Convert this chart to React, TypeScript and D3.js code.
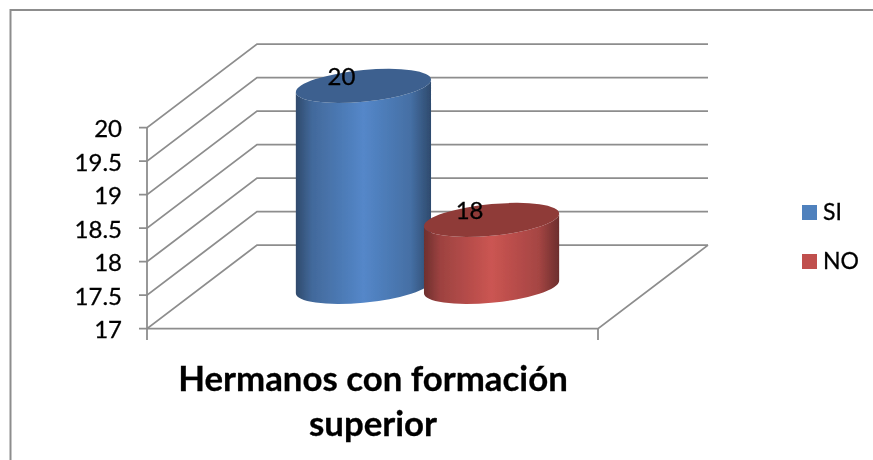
import React from "react";
import * as d3 from "d3";

const categories = ["SI", "NO"];
const values = [20, 18];
const dataLabels = ["20", "18"];
const yTicks = [17, 17.5, 18, 18.5, 19, 19.5, 20];
const titleLines = ["Hermanos con formación", "superior"];
const gradStops = [
  ["#2f4a6c", "#5487c9", "#2e4a6d"],
  ["#6e2f2e", "#cb5552", "#6c2e2d"],
];
const topFills = ["#3d618f", "#8f3b39"];
const legendFills = ["#4f81bd", "#c0504d"];

const W = 873, H = 460;
const y = d3.scaleLinear().domain([17, 20]).range([328.7, 127.7]);
const frontX = d3.scaleLinear().domain([0, 1]).range([147, 598]);
const depth = { x: 110, y: -83.6 };
const xPos = d3.scalePoint<string>().domain(categories).range([147, 598]).padding(1.26);
const grid = "#8d8d8d";

// tilted ellipse of the cylinder
const A = 67.9, B = 15.8, THETA = (-5.6 * Math.PI) / 180;
const halfW = Math.hypot(A * Math.cos(THETA), B * Math.sin(THETA));
const tanY = ((A * A - B * B) * Math.sin(THETA) * Math.cos(THETA)) / halfW;
const arc = `A${A} ${B} ${(THETA * 180) / Math.PI}`;

function topPath(cx: number, cy: number) {
  return `M${cx - halfW} ${cy - tanY}${arc} 0 1 ${cx + halfW} ${cy + tanY}${arc} 0 1 ${cx - halfW} ${cy - tanY}Z`;
}
function bodyPath(cx: number, cy: number, by: number) {
  return `M${cx - halfW} ${cy - tanY}L${cx - halfW} ${by - tanY}${arc} 0 0 ${cx + halfW} ${by + tanY}L${cx + halfW} ${cy + tanY}${arc} 0 1 ${cx - halfW} ${cy - tanY}Z`;
}

export default function App() {
  const font = "Lato, 'Noto Sans', sans-serif";
  const x0 = frontX(0), x1 = frontX(1);
  const baseY = y(17) + depth.y / 2;
  const line = d3.line();
  return (
    <svg width={W} height={H} viewBox={`0 0 ${W} ${H}`} style={{ position: "absolute", left: 0, top: 0, background: "#fff" }} fontFamily={font}>
      <defs>
        {gradStops.map((g, i) => (
          <linearGradient key={i} id={`g${i}`} x1="0" x2="1" y1="0" y2="0">
            <stop offset="0" stopColor={g[0]} />
            <stop offset="0.12" stopColor={d3.interpolateRgb(g[0], g[1])(0.5)} />
            <stop offset="0.5" stopColor={g[1]} />
            <stop offset="0.85" stopColor={d3.interpolateRgb(g[1], g[2])(0.4)} />
            <stop offset="1" stopColor={g[2]} />
          </linearGradient>
        ))}
        <filter id="soft" x="-5%" y="-5%" width="110%" height="110%">
          <feGaussianBlur stdDeviation="0.45" />
        </filter>
      </defs>
      <g filter="url(#soft)">
        <path d={`M10.5 ${H}L10.5 10H${W}`} fill="none" stroke={grid} strokeWidth={2} />
        {yTicks.map((t) => (
          <path key={t} d={line([[x0 - 8, y(t)], [x0, y(t)], [x0 + depth.x, y(t) + depth.y], [x1 + depth.x, y(t) + depth.y]]) as string} fill="none" stroke={grid} strokeWidth={1.8} />
        ))}
        <path d={line([[x0, y(20)], [x0, 340]]) as string} stroke={grid} strokeWidth={1.8} fill="none" />
        <path d={line([[x0, y(17)], [x1, y(17)], [x1 + depth.x, y(17) + depth.y]]) as string} stroke={grid} strokeWidth={1.8} fill="none" />
        <path d={line([[x1, y(17)], [x1, 340]]) as string} stroke={grid} strokeWidth={1.8} fill="none" />
        {categories.map((c, i) => {
          const cx = (xPos(c) as number) + depth.x / 2;
          const cy = y(values[i]) + depth.y / 2;
          return (
            <g key={c}>
              <path d={bodyPath(cx, cy, baseY)} fill={`url(#g${i})`} />
              <path d={topPath(cx, cy)} fill={topFills[i]} />
            </g>
          );
        })}
        <g fill="#000" stroke="#000" strokeWidth={0.3}>
          {categories.map((c, i) => {
            const cx = (xPos(c) as number) + depth.x / 2;
            const cy = y(values[i]) + depth.y / 2;
            return (
              <text key={c} x={cx - 22} y={cy - 0.5} fontSize={24} textAnchor="middle">{dataLabels[i]}</text>
            );
          })}
          {yTicks.map((t) => (
            <text key={t} x={122} y={y(t) + 9.5} fontSize={24} textAnchor="end">{t}</text>
          ))}
          {titleLines.map((l, i) => (
            <text key={l} x={373} y={391 + i * 45} fontSize={34.8} fontWeight={700} textAnchor="middle">{l}</text>
          ))}
          {categories.map((c, i) => (
            <g key={c}>
              <rect x={802} y={205 + i * 49} width={15} height={15} fill={legendFills[i]} stroke="none" />
              <text x={823} y={220 + i * 49} fontSize={23}>{c}</text>
            </g>
          ))}
        </g>
      </g>
    </svg>
  );
}
